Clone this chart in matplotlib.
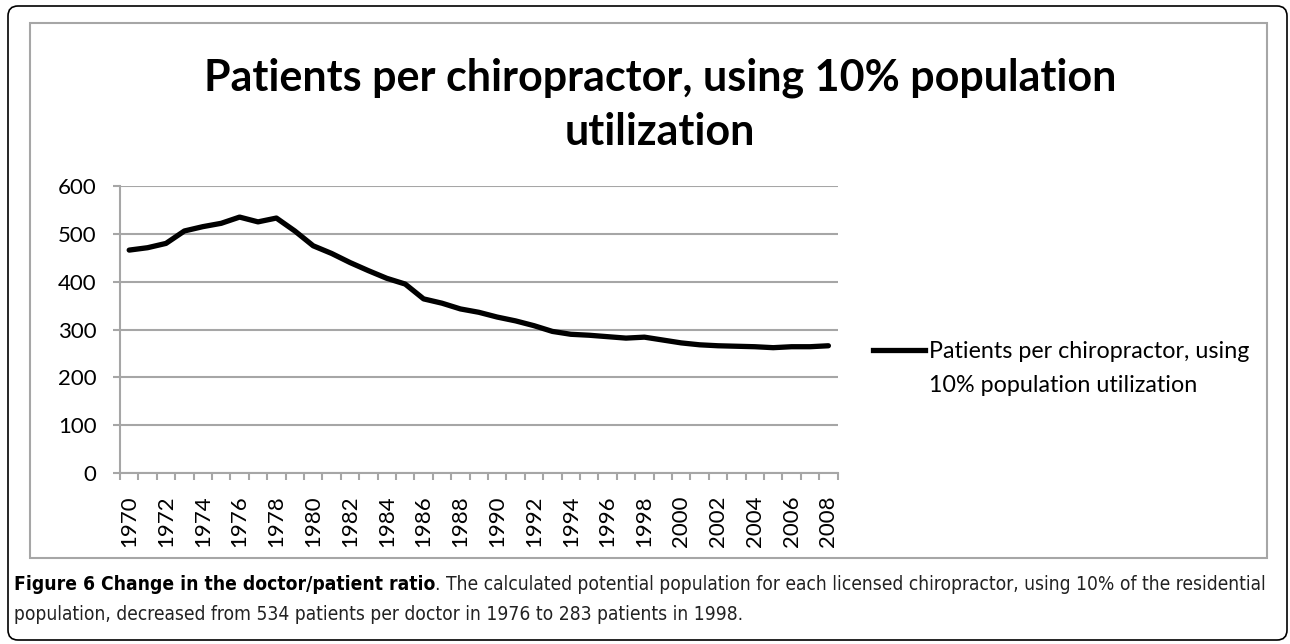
import matplotlib
matplotlib.use("Agg")
import matplotlib.pyplot as plt
from matplotlib import font_manager
from matplotlib.lines import Line2D
from matplotlib.patches import FancyBboxPatch, Rectangle
from matplotlib.transforms import IdentityTransform

# data
years = list(range(1970, 2009))
patients = [466, 471, 480, 506, 515, 522, 535, 525, 533, 506,
            475, 459, 440, 423, 407, 395, 364, 355, 343, 336,
            326, 318, 308, 296, 290, 288, 285, 282, 284, 278,
            272, 268, 266, 265, 264, 262, 264, 264, 266]
year_labels = [str(y) for y in years[::2]]
y_ticks = [0, 100, 200, 300, 400, 500, 600]

title_lines = ["Patients per chiropractor, using 10% population", "utilization"]
legend_lines = ["Patients per chiropractor, using", "10% population utilization"]
caption_bold = "Figure 6 Change in the doctor/patient ratio"
caption_rest = (". The calculated potential population for each licensed chiropractor, "
                "using 10% of the residential")
caption_line2 = ("population, decreased from 534 patients per doctor in 1976 "
                 "to 283 patients in 1998.")

W, H = 1290, 644
GRID = "#a6a6a6"

# condensed face for the caption if one is installed
cond = [f for f in font_manager.fontManager.ttflist
        if f.name == "DejaVu Sans" and f.stretch == "condensed"]
if cond:
    cap_font = dict(family="DejaVu Sans", stretch="condensed")
else:
    cap_font = dict(family="Liberation Sans")
plt.rcParams["font.family"] = ["Lato", "DejaVu Sans"]

fig = plt.figure(figsize=(W / 100, H / 100), dpi=100)
renderer = fig.canvas.get_renderer()


def fx(x):
    return x / W


def fy(y):
    return 1 - y / H


def fit_width(txt, width_px):
    for _ in range(2):
        bb = txt.get_window_extent(renderer)
        txt.set_fontsize(txt.get_fontsize() * width_px / bb.width)


# frames
fig.add_artist(FancyBboxPatch((8, H - 640), 1279, 634, boxstyle="round,pad=0,rounding_size=10",
                              transform=IdentityTransform(), fill=False, ec="black", lw=1.2))
fig.add_artist(Rectangle((30, H - 558), 1237, 535, transform=IdentityTransform(),
                         fill=False, ec=GRID, lw=1.5))

# axes
left, right, top, bottom = 120, 837.6, 186, 473
ax = fig.add_axes([fx(left), fy(bottom), fx(right - left), (bottom - top) / H])
ax.plot(years, patients, color="black", lw=3.8, solid_joinstyle="round", solid_capstyle="round")
ax.set_xlim(years[0] - 0.5, years[-1] + 0.5)
ax.set_ylim(0, 600)
ax.set_yticks(y_ticks)
ax.set_yticklabels([str(v) for v in y_ticks], fontsize=16)
ax.yaxis.grid(True, color=GRID, lw=1.5)
ax.set_axisbelow(True)
ax.tick_params(axis="y", length=5, width=1.5, color=GRID, pad=12)

ax.set_xticks([y - 0.5 for y in years] + [years[-1] + 0.5])
ax.set_xticklabels([])
ax.set_xticks(years[::2], minor=True)
ax.set_xticklabels(year_labels, minor=True, rotation=90, fontsize=16)
ax.tick_params(axis="x", which="major", length=5, width=1.5, color=GRID)
ax.tick_params(axis="x", which="minor", length=0, pad=16)

for side in ["top", "right"]:
    ax.spines[side].set_visible(False)
for side in ["left", "bottom"]:
    ax.spines[side].set_color(GRID)
    ax.spines[side].set_linewidth(1.5)

# title
t1 = fig.text(fx(660), fy(91), title_lines[0], ha="center", va="baseline",
              fontsize=30, fontweight="bold")
fit_width(t1, 911)
fig.text(fx(660), fy(145), title_lines[1], ha="center", va="baseline",
         fontsize=t1.get_fontsize(), fontweight="bold")

# legend
fig.add_artist(Line2D([fx(873), fx(925)], [fy(350), fy(350)], color="black", lw=3.8,
                      transform=fig.transFigure))
l1 = fig.text(fx(929), fy(350), legend_lines[0], ha="left", va="center_baseline", fontsize=15)
fit_width(l1, 319)
fig.text(fx(929), fy(384), legend_lines[1], ha="left", va="center_baseline",
         fontsize=l1.get_fontsize())

# caption
fs = 14
cb = fig.text(fx(14), fy(590), caption_bold, ha="left", va="baseline",
              fontweight="bold", fontsize=fs, **cap_font)
cr = fig.text(0, fy(590), caption_rest, ha="left", va="baseline",
              fontsize=fs, color="#222222", **cap_font)
for _ in range(3):
    wb = cb.get_window_extent(renderer).width
    cr.set_x(fx(14 + wb))
    total = wb + cr.get_window_extent(renderer).width
    fs = fs * 1262 / total
    cb.set_fontsize(fs)
    cr.set_fontsize(fs)
wb = cb.get_window_extent(renderer).width
cr.set_x(fx(14 + wb))
fig.text(fx(14), fy(620), caption_line2, ha="left", va="baseline",
         fontsize=fs, color="#222222", **cap_font)

fig.savefig("out.png", dpi=100)
